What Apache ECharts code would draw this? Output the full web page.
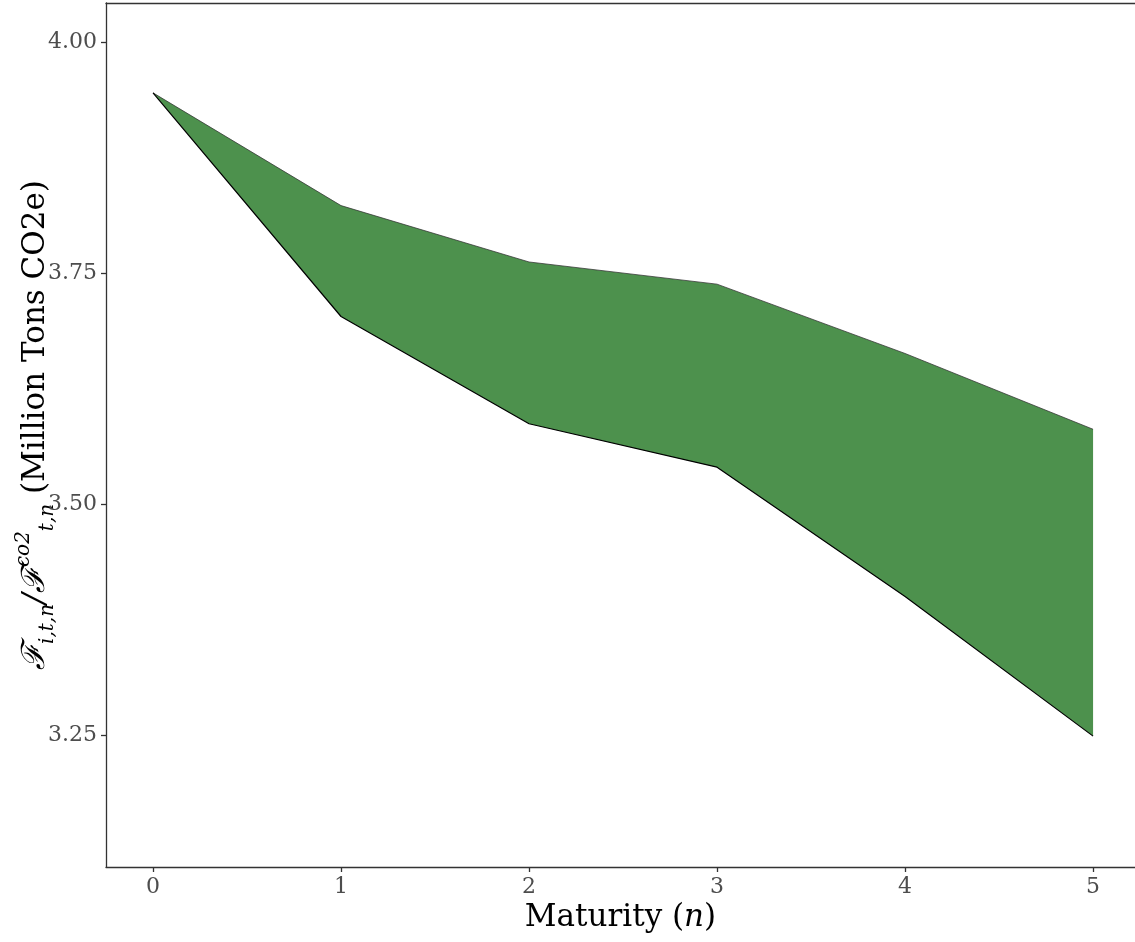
<!DOCTYPE html>
<html>
<head>
<meta charset="utf-8">
<script src="https://cdn.jsdelivr.net/npm/echarts@6/dist/echarts.min.js"></script>
<style>html,body{margin:0;padding:0;background:#fff}#c{width:1135px;height:942px}</style>
</head>
<body>
<div id="c"></div>
<script>
const maturities = [0, 1, 2, 3, 4, 5];
const lowerValues = [3.945, 3.703, 3.587, 3.540, 3.400, 3.249];
const upperValues = [3.945, 3.823, 3.762, 3.738, 3.663, 3.581];
const xTicks = [0, 1, 2, 3, 4, 5];
const yTicks = [3.25, 3.50, 3.75, 4.00];

const FONT = '"DejaVu Serif", "Liberation Serif", serif';
const chart = echarts.init(document.getElementById('c'), null, {renderer: 'canvas'});

const lowerData = maturities.map((m, i) => [m, lowerValues[i]]);
const upperData = maturities.map((m, i) => [m, upperValues[i]]);

function renderBand(params, api) {
  if (params.dataIndex !== 0) return null;
  const pts = [];
  for (let i = 0; i < maturities.length; i++) pts.push(api.coord([maturities[i], upperValues[i]]));
  for (let i = maturities.length - 1; i >= 0; i--) pts.push(api.coord([maturities[i], lowerValues[i]]));
  return {type: 'polygon', shape: {points: pts}, style: {fill: '#4d914d', stroke: null}};
}

chart.setOption({
  animation: false,
  backgroundColor: '#ffffff',
  grid: {left: 106, top: 3, right: 0, bottom: 75, containLabel: false},
  xAxis: [{
    type: 'value', min: -0.25, max: 5.223,
    axisLine: {show: true, onZero: false, lineStyle: {color: '#333333', width: 1.3}},
    axisTick: {show: true, length: 5, customValues: xTicks, lineStyle: {color: '#333333', width: 1.3}},
    axisLabel: {show: true, customValues: xTicks, color: '#4d4d4d', fontFamily: FONT, fontSize: 22, margin: 9,
      formatter: v => String(v)},
    splitLine: {show: false},
    name: '{a|Maturity (}{i|n}{a|)}',
    nameLocation: 'middle', nameGap: 35,
    nameTextStyle: {rich: {
      a: {fontFamily: FONT, fontSize: 31, color: '#000'},
      i: {fontFamily: FONT, fontSize: 31, fontStyle: 'italic', color: '#000'}
    }}
  }, {
    type: 'value', position: 'top', min: -0.25, max: 5.223,
    axisLine: {show: true, onZero: false, lineStyle: {color: '#333333', width: 1.3}},
    axisTick: {show: false}, axisLabel: {show: false}, splitLine: {show: false}
  }],
  yAxis: {
    type: 'value', min: 3.1074, max: 4.0422,
    axisLine: {show: true, onZero: false, lineStyle: {color: '#333333', width: 1.3}},
    axisTick: {show: true, length: 5, customValues: yTicks, lineStyle: {color: '#333333', width: 1.3}},
    axisLabel: {show: true, customValues: yTicks, color: '#4d4d4d', fontFamily: FONT, fontSize: 22, margin: 9,
      formatter: v => v.toFixed(2)},
    splitLine: {show: false}
  },
  graphic: [{
    type: 'text', x: 36, y: 425, rotation: Math.PI / 2,
    style: {
      text: '{F|ℱ}{sub|i,t,n}{F|/ℱ}{sup|co2}{sub|t,n}{a| (Million Tons CO2e)}',
      align: 'center', verticalAlign: 'middle',
      rich: {
        F: {fontFamily: FONT, fontSize: 32, fontStyle: 'italic', fill: '#000', lineHeight: 44, verticalAlign: 'middle'},
        sub: {fontFamily: FONT, fontSize: 20, fontStyle: 'italic', fill: '#000', lineHeight: 44, verticalAlign: 'bottom'},
        sup: {fontFamily: FONT, fontSize: 20, fontStyle: 'italic', fill: '#000', lineHeight: 44, verticalAlign: 'top'},
        a: {fontFamily: FONT, fontSize: 31, fill: '#000', lineHeight: 44, verticalAlign: 'middle'}
      }
    }
  }],
  series: [{
    type: 'custom', name: 'band', renderItem: renderBand, data: maturities.map(m => [m]),
    encode: {x: 0}, z: 1, silent: true
  }, {
    type: 'line', name: 'upper', data: upperData,
    symbol: 'none', lineStyle: {color: 'rgba(50,50,50,0.75)', width: 1}, z: 3
  }, {
    type: 'line', name: 'lower', data: lowerData,
    symbol: 'none', lineStyle: {color: '#000000', width: 1.2}, z: 3
  }]
});
</script>
</body>
</html>
